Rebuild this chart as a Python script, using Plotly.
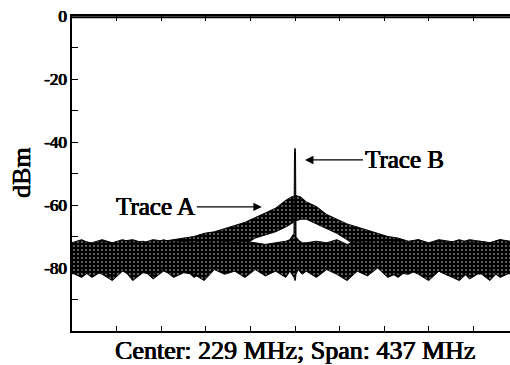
import plotly.graph_objects as go

# ---- data ----
center_mhz = 229
span_mhz = 437

freq_a = [10, 20, 30, 40, 50, 60, 70, 80, 90, 100, 110, 120, 130, 140, 150, 160, 170, 180, 190, 200,
          210, 220, 225, 230, 235, 240, 250, 260, 270, 280, 290, 300, 310, 320, 330, 340, 350, 360,
          370, 380, 390, 400, 410, 420, 430, 440, 450]
upper_a = [-72.5, -71.5, -72, -71, -72, -71.5, -71, -72, -71, -71.5, -71, -70.5, -70, -69, -68.5,
           -67.5, -66.5, -65.5, -64, -62.5, -61, -58.5, -57.5, -57, -57.5, -59, -60.5, -63, -64.5,
           -66, -67, -68, -69, -70, -70.5, -71.5, -71, -72, -71, -71.5, -72, -71, -71.5, -72, -71,
           -71.5, -72]
lower_a = [-81.5, -83, -80.5, -82, -84, -81, -82.5, -80.5, -83.5, -81, -82, -80, -83, -81, -79,
           -77, -75, -72.5, -70.5, -69.5, -68.5, -67, -66, -65, -64.5, -64.5, -66, -67.5, -69, -71,
           -73.5, -76, -79, -81, -83, -80.5, -82, -84, -81, -82.5, -80, -83.5, -81.5, -84, -80.5,
           -82, -81]

freq_b = [10, 20, 30, 40, 50, 60, 70, 80, 90, 100, 110, 120, 130, 140, 150, 160, 170, 180, 190, 200,
          210, 220, 224, 226, 228, 228.5, 229, 229.5, 230, 232, 236, 240, 250, 260, 270, 280, 290,
          300, 310, 320, 330, 340, 350, 360, 370, 380, 390, 400, 410, 420, 430, 440, 450]
upper_b = [-72, -71, -72.5, -71.5, -72, -71, -72, -71.5, -72.5, -71, -72, -71.5, -72, -71, -72.5,
           -71.5, -72, -71.5, -72, -72.5, -72, -71.5, -71, -70, -69, -43, -42, -43, -70, -71, -72,
           -72, -71.5, -72, -71, -72.5, -71.5, -72, -71, -72, -71.5, -72, -71, -72.5, -71.5, -72,
           -71, -72, -71.5, -72, -71, -72, -71.5]
lower_b = [-82, -80.5, -83, -81, -82.5, -80, -84, -81.5, -82, -80.5, -83, -81.5, -82, -84, -80.5,
           -82, -81, -83, -80.5, -82.5, -81, -83, -81, -82, -83, -83.5, -84, -83.5, -82, -80.5, -82,
           -81, -83, -80.5, -82, -84, -81, -82.5, -80, -83, -81.5, -82, -80.5, -83, -81, -82.5,
           -84, -81, -82, -80.5, -83, -81.5, -82]

y_tickvals = [0, -10, -20, -30, -40, -50, -60, -70, -80, -90, -100]
y_ticktext = ["0", "", "-20", "", "-40", "", "-60", "", "-80", "", ""]

FONT = "Liberation Serif"
# faux-bold: Liberation Serif bold face is not available, thicken the regular face
BOLD = "0.55px 0 0 black, -0.35px 0 0 black, 0 0.3px 0 black"

pattern = dict(shape=".", fgcolor="white", bgcolor="black", size=4, solidity=0.18)


def band(freq, upper, lower, name, xa="x"):
    return go.Scatter(
        x=list(freq) + list(freq)[::-1],
        y=list(upper) + list(lower)[::-1],
        xaxis=xa,
        mode="lines",
        fill="toself",
        fillcolor="black",
        fillpattern=pattern,
        line=dict(color="black", width=1),
        name=name,
        hoverinfo="skip",
    )


fig = go.Figure()
fig.add_trace(band(freq_a, upper_a, lower_a, "Trace A"))
fig.add_trace(band(freq_b, upper_b, lower_b, "Trace B", "x2"))

x_lo = center_mhz - span_mhz / 2
div = span_mhz / 10
x_ticks = [x_lo + k * div for k in range(11)]

W, H = 510, 365
ml, mr, mt, mb = 72, 0, 16, 34
pw = W - ml - mr
ph = H - mt - mb
# right part of the span lies beyond the picture edge
x_hi = x_lo + span_mhz * pw / 446

xcommon = dict(range=[x_lo, x_hi], tickmode="array", tickvals=x_ticks, showticklabels=False,
               ticks="inside", ticklen=5, tickwidth=1.2, tickcolor="black",
               showline=True, linecolor="black", linewidth=1.5,
               showgrid=False, zeroline=False)

fig.update_layout(
    width=W, height=H,
    margin=dict(l=ml, r=mr, t=mt, b=mb),
    paper_bgcolor="white", plot_bgcolor="white",
    showlegend=False,
    font=dict(family=FONT, color="black"),
    xaxis=dict(**xcommon, side="bottom"),
    xaxis2=dict(**xcommon, side="top", overlaying="x", anchor="y"),
    yaxis=dict(range=[-100, 0], tickmode="array", tickvals=y_tickvals, ticktext=y_ticktext,
               ticks="inside", ticklen=6, tickwidth=1.2, tickcolor="black",
               showline=True, linecolor="black", linewidth=1.5, mirror=False,
               showgrid=False, zeroline=False,
               tickfont=dict(family=FONT, size=17, color="black", shadow=BOLD)),
)

# frame line along the top edge of the plot area
fig.add_shape(type="line", xref="paper", yref="paper", x0=0, x1=1, y0=0.996, y1=0.996,
              line=dict(color="black", width=2), layer="above")

fig.add_annotation(text="dBm", xref="paper", yref="paper",
                   x=(21 - ml) / pw, y=(331 - 173) / ph, xanchor="center", yanchor="middle",
                   textangle=-90, showarrow=False,
                   font=dict(family=FONT, size=26, color="black", shadow=BOLD))
fig.add_annotation(text="Center: 229 MHz; Span: 437 MHz", xref="paper", yref="paper",
                   x=(295 - ml) / pw, y=(331 - 350) / ph, xanchor="center", yanchor="middle",
                   showarrow=False,
                   font=dict(family=FONT, size=26, color="black", shadow=BOLD))

fig.add_annotation(text="Trace A", x=196.5, y=-60.6, ax=-106, ay=0,
                   showarrow=True, arrowhead=2, arrowsize=1.3, arrowwidth=1.3, arrowcolor="black",
                   font=dict(family=FONT, size=25, color="black", shadow=BOLD))
fig.add_annotation(text="Trace B", x=238.8, y=-45.7, ax=99, ay=0,
                   showarrow=True, arrowhead=2, arrowsize=1.3, arrowwidth=1.3, arrowcolor="black",
                   font=dict(family=FONT, size=25, color="black", shadow=BOLD))

fig.write_html("out.html")
